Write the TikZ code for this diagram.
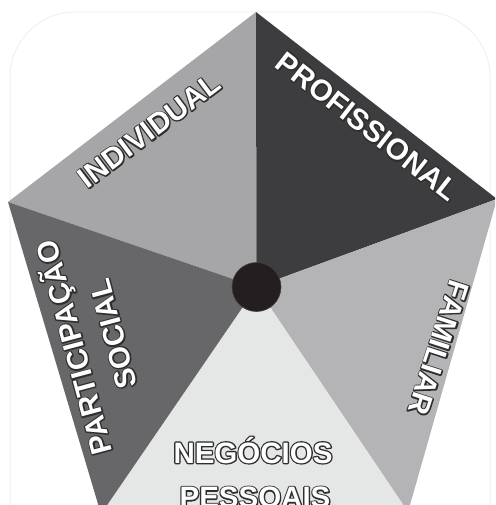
\documentclass[tikz,border=0pt]{standalone}
\usepackage{fontspec}
\setmainfont{Liberation Sans}
\definecolor{cInd}{HTML}{A6A6A8}
\definecolor{cProf}{HTML}{3D3D3F}
\definecolor{cFam}{HTML}{B4B4B6}
\definecolor{cPart}{HTML}{676769}
\definecolor{cNeg}{HTML}{E5E6E6}
\definecolor{cHub}{HTML}{231F20}
\definecolor{olc}{HTML}{2E2E2E}
\definecolor{frame}{HTML}{F0F0F0}
\newcommand\halo[1]{\setbox0=\hbox{#1}%
  \rlap{\color{olc}\special{pdf:code 1 Tr 2.6 w 1 j}\copy0\special{pdf:code 0 Tr}}%
  \textcolor{white}{\copy0}}
\begin{document}
\begin{tikzpicture}[x=1pt,y=-1pt,
  lab/.style={inner sep=0pt, text height=21pt, text depth=0pt,
    font=\fontsize{29.5}{40}\selectfont\bfseries},
  sector/.style={line join=round}]
\useasboundingbox (0,0) rectangle (495,505);
\draw[frame, line width=1pt, rounded corners=65pt] (10,12) rectangle (490,570);
\coordinate (C) at (256.5,287);
\coordinate (T) at (256,12);
\coordinate (R) at (497,199);
\coordinate (BR) at (408,512);
\coordinate (BL) at (101,514);
\coordinate (L) at (8,202);
\begin{scope}
\clip (0,0) rectangle (495,505);
\fill[cInd, sector] (C) -- (L) -- (T) -- cycle;
\fill[cProf, sector] (C) -- (T) -- (R) -- cycle;
\fill[cFam, sector] (C) -- (R) -- (BR) -- cycle;
\fill[cNeg, sector] (C) -- (BR) -- (BL) -- cycle;
\fill[cPart, sector] (C) -- (BL) -- (L) -- cycle;
\end{scope}
\node[circle, fill=cHub, draw=cHub!85!white, line width=0.6pt,
  minimum size=49pt, inner sep=0pt] (hub) at (C) {};
\node[lab, rotate=37] (ind) at (149,130) {\halo{INDIVIDUAL}};
\node[lab, rotate=-38] (prof) at (367.5,126) {\halo{PROFISSIONAL}};
\node[lab, rotate=-108] (fam) at (439,348) {\halo{FAMILIAR}};
\node[lab, rotate=105] (part1) at (74,347.5) {\halo{PARTICIPAÇÃO}};
\node[lab, rotate=105] (part2) at (113,334) {\halo{SOCIAL}};
\node[lab] (neg1) at (253,452.5) {\halo{NEGÓCIOS}};
\node[lab] (neg2) at (255,497) {\halo{PESSOAIS}};
\end{tikzpicture}
\end{document}
